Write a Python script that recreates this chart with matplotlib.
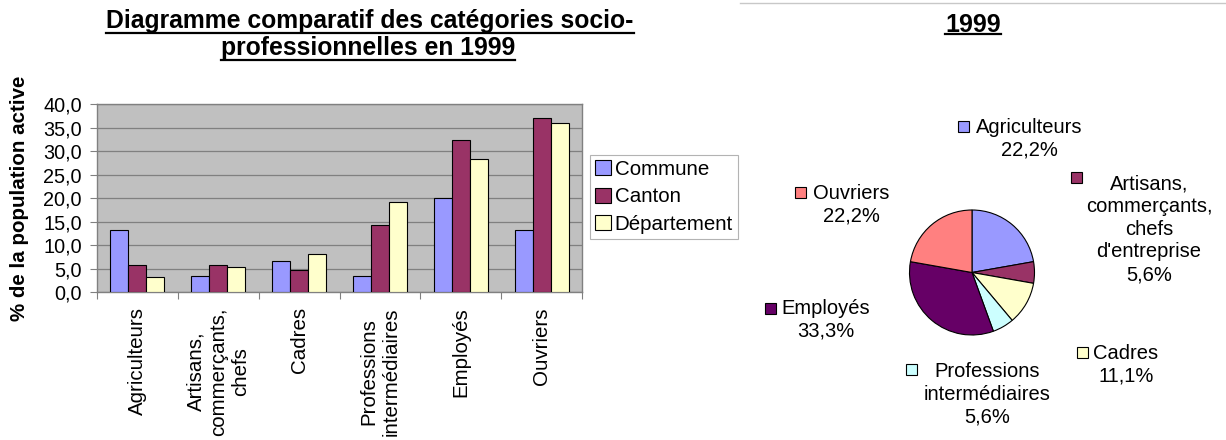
import matplotlib
matplotlib.use("Agg")
import matplotlib.pyplot as plt
import numpy as np
from matplotlib.patches import Rectangle
from matplotlib.lines import Line2D
from matplotlib.transforms import IdentityTransform

plt.rcParams['font.family'] = ['Liberation Sans', 'DejaVu Sans']

# ---- data ----
categories = ["Agriculteurs", "Artisans,\ncommerçants,\nchefs", "Cadres",
              "Professions\nintermédiaires", "Employés", "Ouvriers"]
commune = [13.2, 3.3, 6.6, 3.3, 19.9, 13.2]
canton = [5.8, 5.8, 4.6, 14.3, 32.3, 37.1]
departement = [3.1, 5.3, 8.1, 19.2, 28.2, 36.0]
series_names = ["Commune", "Canton", "Département"]
series_colors = ["#9999FF", "#993366", "#FFFFCC"]
y_ticks = [0, 5, 10, 15, 20, 25, 30, 35, 40]

pie_labels = ["Agriculteurs", "Artisans,\ncommerçants,\nchefs\nd'entreprise", "Cadres",
              "Professions\nintermédiaires", "Employés", "Ouvriers"]
pie_counts = [4, 1, 2, 1, 6, 4]
pie_colors = ["#9999FF", "#993366", "#FFFFCC", "#CCFFFF", "#660066", "#FF8080"]

bar_title = ["Diagramme comparatif des catégories socio-", "professionnelles en 1999"]
pie_title = "1999"
y_label = "% de la population active"

# ---- figure in pixel units ----
W, H = 1226, 440
fig = plt.figure(figsize=(W / 100, H / 100), dpi=100)


def px_axes(left, top, right, bottom):
    return fig.add_axes([left / W, 1 - bottom / H, (right - left) / W, (bottom - top) / H])


def fmt_comma(v, nd=1):
    return f"{v:.{nd}f}".replace(".", ",")


# ---- grouped bar chart ----
ax = px_axes(97, 104, 582, 292)
x = np.arange(len(categories))
bw = 1 / 4.5
for i, (vals, name, col) in enumerate(zip([commune, canton, departement], series_names, series_colors)):
    ax.bar(x + (i - 1) * bw, vals, bw, color=col, edgecolor="black", linewidth=0.8,
           label=name, zorder=3)
ax.set_xlim(-0.5, len(categories) - 0.5)
ax.set_ylim(0, 40)
ax.set_facecolor("#C0C0C0")
ax.yaxis.grid(True, color="#808080", linewidth=0.9, zorder=0)
ax.set_axisbelow(True)
for sp in ax.spines.values():
    sp.set_color("#808080")
    sp.set_linewidth(1.0)
ax.set_yticks(y_ticks)
ax.set_yticklabels([fmt_comma(v) for v in y_ticks])
ax.tick_params(axis="y", length=5, width=0.8, color="#808080", pad=6, labelsize=14.3)
ax.set_xticks(np.arange(-0.5, len(categories), 1.0))
ax.set_xticklabels([])
ax.tick_params(axis="x", which="major", length=5, width=0.8, color="#808080")
ax.set_xticks(x, minor=True)
ax.set_xticklabels(categories, minor=True, rotation=90, va="top", ha="center",
                   multialignment="center", fontsize=14.8)
ax.tick_params(axis="x", which="minor", length=0, pad=11)

fig.text(20 / W, 1 - 198 / H, y_label, rotation=90, ha="center", va="center",
         fontsize=14.8, fontweight="bold")

handles = [Rectangle((0, 0), 1, 1, facecolor=c, edgecolor="black", linewidth=0.8) for c in series_colors]
leg = fig.legend(handles, series_names, loc="upper left", bbox_to_anchor=(590 / W, 1 - 155 / H),
                 frameon=True, fancybox=False, edgecolor="#A0A0A0", fontsize=14.8,
                 handlelength=0.75, handleheight=0.75, handletextpad=0.2, labelspacing=0.4,
                 borderpad=0.25, borderaxespad=0)
leg.get_frame().set_linewidth(0.8)

# ---- pie chart ----
R = 62.5
pad = 1.03
cx, cy = 972, 272.5
axp = px_axes(cx - R * pad, cy - R * pad, cx + R * pad, cy + R * pad)
axp.pie(pie_counts, colors=pie_colors, startangle=90, counterclock=False,
        wedgeprops=dict(edgecolor="black", linewidth=0.8))
axp.set_xlim(-pad, pad)
axp.set_ylim(-pad, pad)
axp.set_aspect("equal")

total = sum(pie_counts)
# (text block centre, legend-key centre) in pixels
label_pos = [((1029, 139), (964, 127)),
             ((1149, 229), (1076, 178)),
             ((1126, 365), (1082, 352)),
             ((987, 394), (911, 369)),
             ((826, 320), (770, 308)),
             ((851, 205), (800, 193))]
key = 11
for name, cnt, col, ((tx, ty), (sx, sy)) in zip(pie_labels, pie_counts, pie_colors, label_pos):
    pct = fmt_comma(cnt / total * 100) + "%"
    fig.text(tx / W, 1 - ty / H, f"{name}\n{pct}", ha="center", va="center",
             multialignment="center", fontsize=14.5, linespacing=1.25)
    fig.add_artist(Rectangle(((sx - key / 2) / W, 1 - (sy + key / 2) / H), key / W, key / H,
                             facecolor=col, edgecolor="black", linewidth=0.8,
                             transform=fig.transFigure))

# thin rule across the top of the pie panel
fig.add_artist(Line2D([740 / W, 1], [1 - 3 / H, 1 - 3 / H], color="#C8C8C8", linewidth=1.0,
                      transform=fig.transFigure))

# ---- underlined bold titles ----
titles = [(bar_title[0], 370, 28, 17.8, 5),
          (bar_title[1], 368, 55, 17.8, 5),
          (pie_title, 973, 32, 18.0, 2)]
title_artists = []
for s, tx, tyb, size, off in titles:
    t = fig.text(tx / W, 1 - tyb / H, s, ha="center", va="baseline", fontsize=size, fontweight="bold")
    title_artists.append((t, tyb, off))

fig.canvas.draw()
renderer = fig.canvas.get_renderer()
for t, tyb, off in title_artists:
    bb = t.get_window_extent(renderer)
    yline = H - tyb - off
    fig.add_artist(Line2D([bb.x0, bb.x1], [yline, yline], transform=IdentityTransform(),
                          color="black", linewidth=1.6))

fig.savefig("out.png", dpi=100)
